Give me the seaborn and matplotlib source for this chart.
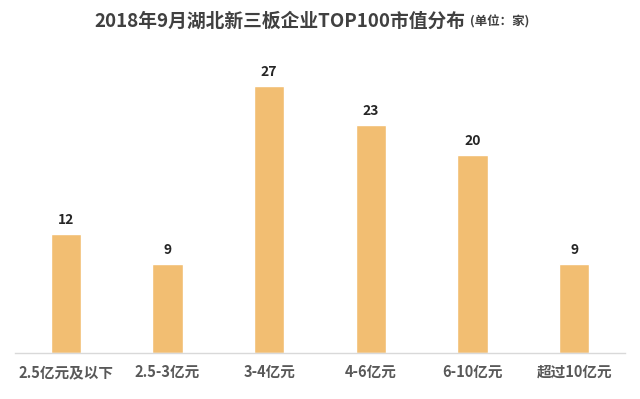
import matplotlib
matplotlib.use('agg')
import matplotlib.pyplot as plt
import pandas as pd
import seaborn as sns

categories = ["2.5亿元及以下", "2.5-3亿元", "3-4亿元", "4-6亿元", "6-10亿元", "超过10亿元"]
counts = [12, 9, 27, 23, 20, 9]

sns.set_style("white")
plt.rcParams['font.family'] = ['Noto Sans CJK SC', 'DejaVu Sans']

df = pd.DataFrame({"range": categories, "count": counts})

fig = plt.figure(figsize=(6.4, 3.99), dpi=100)
ax = fig.add_axes([15 / 640, 1 - 353 / 399, 610 / 640, 297 / 399])

sns.barplot(data=df, x="range", y="count", color="#F2BE72", saturation=1,
            width=0.3, ax=ax)

# value labels above bars
for i, v in enumerate(counts):
    ax.text(i, v + 0.7, str(v), ha="center", va="bottom", fontsize=10,
            fontweight="bold", color="#262626")

ax.set_xlim(-0.5, 5.5)
ax.set_ylim(0, 30)
ax.set_xlabel("")
ax.set_ylabel("")
ax.set_yticks([])
ax.tick_params(axis="x", length=0, pad=8)
for lbl in ax.get_xticklabels():
    lbl.set_fontsize(10.5)
    lbl.set_fontweight("bold")
    lbl.set_color("#595959")

for s in ["top", "right", "left"]:
    ax.spines[s].set_visible(False)
ax.spines["bottom"].set_color("#D9D9D9")
ax.spines["bottom"].set_linewidth(1)

fig.text(465 / 640, 1 - 21 / 399, "2018年9月湖北新三板企业TOP100市值分布",
         ha="right", va="center", fontsize=13.5, fontweight="bold",
         color="#404040")
fig.text(470 / 640, 1 - 22 / 399, "(单位：家)", ha="left", va="center",
         fontsize=9, fontweight="bold", color="#404040")

fig.savefig("out.png", dpi=100)
